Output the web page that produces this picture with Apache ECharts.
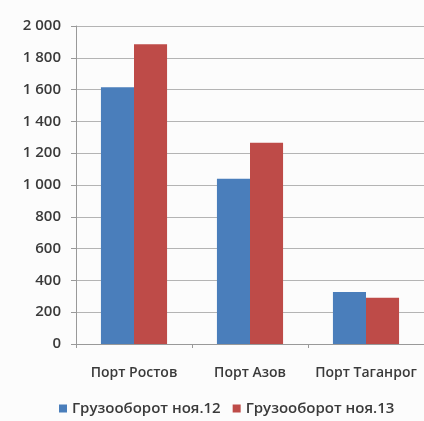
<!DOCTYPE html>
<html>
<head>
<meta charset="utf-8">
<script src="https://cdn.jsdelivr.net/npm/echarts@6/dist/echarts.min.js"></script>
<style>
  html, body { margin: 0; padding: 0; background: #fcfcfc; }
  #chart { width: 424px; height: 421px; }
</style>
</head>
<body>
<div id="chart"></div>
<script>
// Cargo turnover by port, November 2012 vs November 2013
const ports = ['Порт Ростов', 'Порт Азов', 'Порт Таганрог'];
const seriesNames = ['Грузооборот ноя.12', 'Грузооборот ноя.13'];
const turnover2012 = [1615, 1040, 327];
const turnover2013 = [1885, 1266, 291];

const fontFamily = '"Open Sans", sans-serif';
const textColor = '#3a3a3a';

function fmtThousands(v) {
  return String(v).replace(/\B(?=(\d{3})+(?!\d))/g, ' ');
}

const chart = echarts.init(document.getElementById('chart'));
chart.setOption({
  backgroundColor: '#fcfcfc',
  animation: false,
  color: ['#4a7ebb', '#be4b48'],
  grid: { left: 76, right: 0, top: 26, bottom: 77 },
  legend: {
    data: seriesNames,
    bottom: 0,
    left: 54,
    itemWidth: 8,
    itemHeight: 8,
    itemGap: 12,
    icon: 'rect',
    textStyle: { color: textColor, fontSize: 15, fontWeight: 600, fontFamily: fontFamily }
  },
  xAxis: {
    type: 'category',
    data: ports,
    axisLine: { lineStyle: { color: '#999' } },
    axisTick: { show: true, length: 4, lineStyle: { color: '#999' } },
    axisLabel: { interval: 0, color: textColor, fontSize: 14, fontWeight: 600, fontFamily: fontFamily, margin: 22 }
  },
  yAxis: {
    type: 'value',
    min: 0,
    max: 2000,
    interval: 200,
    axisLine: { show: true, lineStyle: { color: '#999' } },
    axisTick: { show: true, length: 5, lineStyle: { color: '#999' } },
    splitLine: { lineStyle: { color: '#b4b4b4', width: 1 } },
    axisLabel: {
      color: textColor, fontSize: 15, fontWeight: 600, fontFamily: fontFamily, margin: 15,
      formatter: fmtThousands
    }
  },
  series: [
    { name: seriesNames[0], type: 'bar', data: turnover2012, barGap: '0%', barCategoryGap: '43%' },
    { name: seriesNames[1], type: 'bar', data: turnover2013, barGap: '0%', barCategoryGap: '43%' }
  ]
});
</script>
</body>
</html>
